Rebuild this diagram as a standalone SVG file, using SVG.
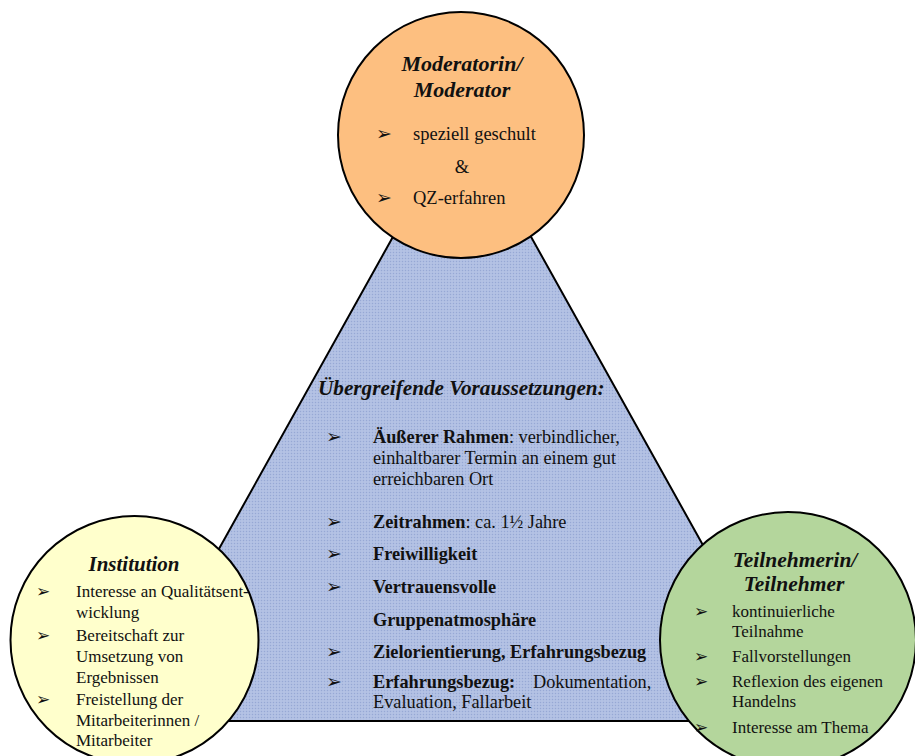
<svg xmlns="http://www.w3.org/2000/svg" width="915" height="756" viewBox="0 0 915 756">
<defs>
<pattern id="dots" width="3" height="3" patternUnits="userSpaceOnUse">
<rect width="3" height="3" fill="#afbee2"/>
<rect x="0" y="0" width="1" height="1" fill="#97a8d4"/>
<rect x="1.5" y="1.5" width="1" height="1" fill="#c4d0ec"/>
</pattern>
</defs>
<style>
.shape{stroke:#000;stroke-width:2}
.t{font-family:"Liberation Serif","Times New Roman",serif;fill:#111}
.title{font-weight:bold;font-style:italic}
.b{font-weight:bold}
.bul{font-family:"DejaVu Sans",sans-serif;fill:#111}
</style>
<rect width="915" height="756" fill="#fff"/>
<g id="triangle">
<polygon class="shape" points="462,113 123,721 801,721" fill="url(#dots)"/>
<text class="t title" x="318" y="395" font-size="21.2">Übergreifende Voraussetzungen:</text>
<g font-size="19" class="bul">
<text x="326" y="443">➢</text>
<text x="326" y="528">➢</text>
<text x="326" y="560">➢</text>
<text x="326" y="593">➢</text>
<text x="326" y="658">➢</text>
<text x="326" y="688">➢</text>
</g>
<g class="t" font-size="18.3">
<text x="373" y="443"><tspan class="b">Äußerer Rahmen</tspan>: verbindlicher,</text>
<text x="373" y="464">einhaltbarer Termin an einem gut</text>
<text x="373" y="485">erreichbaren Ort</text>
<text x="373" y="528"><tspan class="b">Zeitrahmen</tspan>: ca. 1½ Jahre</text>
<text x="373" y="560" class="b">Freiwilligkeit</text>
<text x="373" y="593" class="b">Vertrauensvolle</text>
<text x="373" y="626" class="b">Gruppenatmosphäre</text>
<text x="373" y="658" class="b">Zielorientierung, Erfahrungsbezug</text>
<text x="373" y="688"><tspan class="b">Erfahrungsbezug:</tspan><tspan x="533">Dokumentation,</tspan></text>
<text x="373" y="708">Evaluation, Fallarbeit</text>
</g>
</g>
<g id="connectors"></g>
<g id="moderator">
<circle class="shape" cx="461" cy="135" r="123" fill="#fdbf80"/>
<g class="t title" font-size="22" text-anchor="middle">
<text x="462" y="71">Moderatorin/</text>
<text x="462" y="97">Moderator</text>
</g>
<g font-size="19" class="bul">
<text x="376" y="140">➢</text>
<text x="376" y="204">➢</text>
</g>
<g class="t" font-size="18.5">
<text x="413" y="140">speziell geschult</text>
<text x="462" y="173" text-anchor="middle">&amp;</text>
<text x="413" y="204">QZ-erfahren</text>
</g>
</g>
<g id="institution">
<circle class="shape" cx="134.5" cy="640" r="124" fill="#ffffcc"/>
<text class="t title" x="134" y="571" font-size="21" text-anchor="middle">Institution</text>
<g font-size="17" class="bul">
<text x="36" y="597">➢</text>
<text x="36" y="641">➢</text>
<text x="36" y="705">➢</text>
</g>
<g class="t" font-size="17">
<text x="76" y="597">Interesse an Qualitätsent-</text>
<text x="76" y="618">wicklung</text>
<text x="76" y="641">Bereitschaft zur</text>
<text x="76" y="662">Umsetzung von</text>
<text x="76" y="683">Ergebnissen</text>
<text x="76" y="705">Freistellung der</text>
<text x="76" y="726">Mitarbeiterinnen /</text>
<text x="76" y="746">Mitarbeiter</text>
</g>
</g>
<g id="teilnehmer">
<circle class="shape" cx="788" cy="640" r="128" fill="#b4d69c"/>
<g class="t title" font-size="21.5" text-anchor="middle">
<text x="795" y="567">Teilnehmerin/</text>
<text x="794" y="591">Teilnehmer</text>
</g>
<g font-size="17" class="bul">
<text x="694" y="617">➢</text>
<text x="694" y="662">➢</text>
<text x="694" y="687">➢</text>
<text x="694" y="733">➢</text>
</g>
<g class="t" font-size="17">
<text x="732" y="617">kontinuierliche</text>
<text x="732" y="637">Teilnahme</text>
<text x="732" y="662">Fallvorstellungen</text>
<text x="732" y="687">Reflexion des eigenen</text>
<text x="732" y="707">Handelns</text>
<text x="732" y="733">Interesse am Thema</text>
</g>
</g>
</svg>
